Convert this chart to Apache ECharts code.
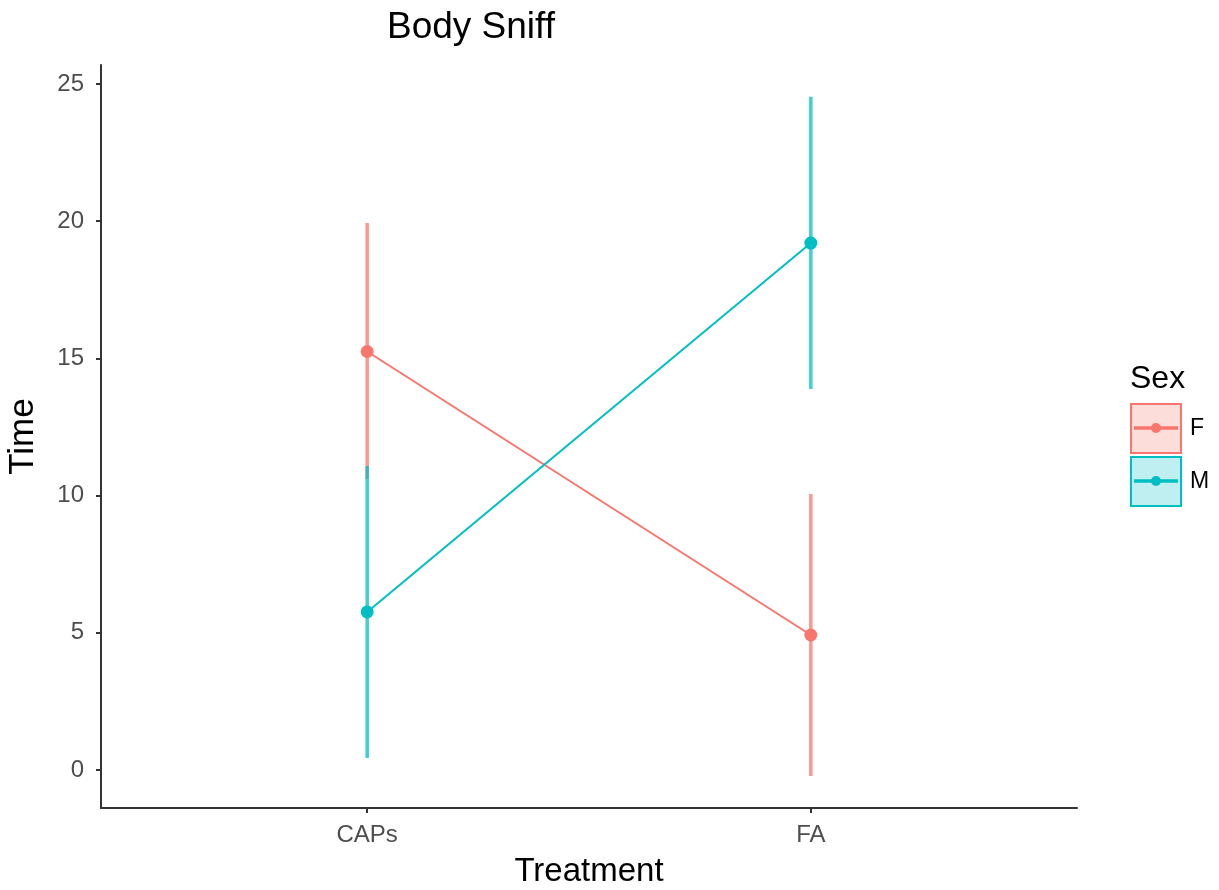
<!DOCTYPE html>
<html>
<head>
<meta charset="utf-8">
<script src="https://cdn.jsdelivr.net/npm/echarts@6/dist/echarts.min.js"></script>
<style>html,body{margin:0;padding:0;background:#fff;}#c{width:1219px;height:890px;}</style>
</head>
<body>
<div id="c"></div>
<script>
// Data
const categories = ['CAPs', 'FA'];
const seriesNames = ['F', 'M'];
const colors = ['#F8766D', '#00BFC4'];
const meanF = [15.25, 4.92];
const lowF = [10.6, -0.22];
const highF = [19.93, 10.06];
const meanM = [5.76, 19.2];
const lowM = [0.44, 13.88];
const highM = [11.08, 24.53];
const yTicks = [0, 5, 10, 15, 20, 25];

const FONT = '"Liberation Sans", Arial, Helvetica, sans-serif';
const chart = echarts.init(document.getElementById('c'));

function errSeries(name, color, lows, highs) {
  return {
    type: 'custom', name: name + ' err', z: 1,
    data: categories.map((c, i) => [i + 1, lows[i], highs[i]]),
    renderItem: function (params, api) {
      const a = api.coord([api.value(0), api.value(1)]);
      const b = api.coord([api.value(0), api.value(2)]);
      return { type: 'line', shape: { x1: a[0], y1: a[1], x2: b[0], y2: b[1] },
        style: { stroke: color, lineWidth: 3.5, opacity: 0.75 } };
    },
    silent: true
  };
}
function lineSeries(name, color, means) {
  return {
    type: 'line', name: name, z: 3,
    data: categories.map((c, i) => [i + 1, means[i]]),
    symbol: 'circle', symbolSize: 13,
    lineStyle: { color: color, width: 2 },
    itemStyle: { color: color },
    animation: false
  };
}

// Legend graphic built from series names/colors
const legendEls = [{ type: 'text', left: 1130, top: 363, style: { text: 'Sex', font: '32px ' + FONT, fill: '#000' } }];
seriesNames.forEach((n, i) => {
  const y0 = 404 + i * 53;
  const col = colors[i];
  legendEls.push({ type: 'rect', shape: { x: 1131, y: y0, width: 50, height: 49 },
    style: { fill: col, opacity: 0.25 } });
  legendEls.push({ type: 'rect', shape: { x: 1131, y: y0, width: 50, height: 49 },
    style: { fill: 'none', stroke: col, lineWidth: 2 } });
  legendEls.push({ type: 'line', shape: { x1: 1134, y1: y0 + 24, x2: 1178, y2: y0 + 24 },
    style: { stroke: col, lineWidth: 3.5 } });
  legendEls.push({ type: 'circle', shape: { cx: 1156, cy: y0 + 24, r: 5 }, style: { fill: col } });
  legendEls.push({ type: 'text', left: 1190, top: y0 + 13, style: { text: n, font: '23px ' + FONT, fill: '#000' } });
});

chart.setOption({
  animation: false,
  backgroundColor: '#fff',
  title: { text: 'Body Sniff', left: 382, top: 4,
    textStyle: { fontFamily: FONT, fontSize: 37, fontWeight: 'normal', color: '#000' } },
  grid: { left: 101, right: 142, top: 65, bottom: 82, containLabel: false, outerBoundsMode: 'none' },
  xAxis: {
    type: 'value', min: 0.4, max: 2.6,
    name: 'Treatment', nameLocation: 'middle', nameGap: 47,
    nameTextStyle: { fontFamily: FONT, fontSize: 33, color: '#000' },
    axisLine: { show: true, onZero: false, lineStyle: { color: '#333', width: 2 } },
    axisTick: { show: true, customValues: [1, 2], length: 5, lineStyle: { color: '#333', width: 2 } },
    axisLabel: { customValues: [1, 2], formatter: v => categories[Math.round(v) - 1] || '',
      fontFamily: FONT, fontSize: 24, color: '#4d4d4d', margin: 15 },
    splitLine: { show: false }
  },
  yAxis: {
    type: 'value', min: -1.385, max: 25.69,
    name: 'Time', nameLocation: 'middle', nameGap: 60, nameRotate: 90,
    nameTextStyle: { fontFamily: FONT, fontSize: 35, color: '#000' },
    axisLine: { show: true, onZero: false, lineStyle: { color: '#333', width: 2 } },
    axisTick: { show: true, customValues: yTicks, length: 5, lineStyle: { color: '#333', width: 2 } },
    axisLabel: { customValues: yTicks, fontFamily: FONT, fontSize: 24, color: '#4d4d4d', margin: 17 },
    splitLine: { show: false }
  },
  series: [
    errSeries('F', colors[0], lowF, highF),
    errSeries('M', colors[1], lowM, highM),
    lineSeries('F', colors[0], meanF),
    lineSeries('M', colors[1], meanM)
  ],
  graphic: legendEls
});
</script>
</body>
</html>
